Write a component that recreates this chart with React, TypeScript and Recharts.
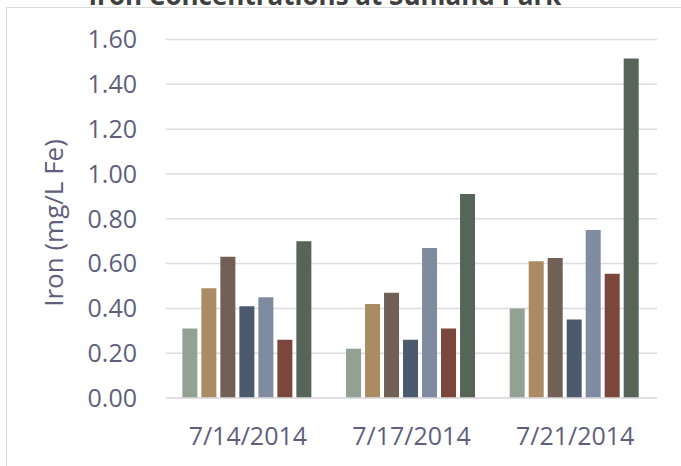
import React from 'react';
import { BarChart, Bar, XAxis, YAxis, CartesianGrid, Label } from 'recharts';

const categories = ['7/14/2014', '7/17/2014', '7/21/2014'];
const site1 = [0.31, 0.22, 0.40];
const site2 = [0.49, 0.42, 0.61];
const site3 = [0.63, 0.47, 0.625];
const site4 = [0.41, 0.26, 0.35];
const site5 = [0.45, 0.67, 0.75];
const site6 = [0.26, 0.31, 0.555];
const site7 = [0.70, 0.91, 1.515];
const yTicks = [0, 0.2, 0.4, 0.6, 0.8, 1.0, 1.2, 1.4, 1.6];

const seriesKeys = ['s1', 's2', 's3', 's4', 's5', 's6', 's7'];
const seriesValues = [site1, site2, site3, site4, site5, site6, site7];
const colors = ['#93A195', '#AB8B63', '#725F55', '#4B5A6C', '#7F8BA0', '#7B473D', '#566558'];

const data = categories.map((c, i) => {
  const row: Record<string, number | string> = { date: c };
  seriesKeys.forEach((k, j) => {
    row[k] = seriesValues[j][i];
  });
  return row;
});

const textColor = '#5F5F7D';
const gridColor = '#DCDCE2';
const fontFamily = '"Open Sans", sans-serif';

export default function App() {
  return (
    <div style={{ position: 'absolute', left: 0, top: 0, width: 681, height: 466, overflow: 'hidden', background: '#fff' }}>
      <div
        style={{
          position: 'absolute',
          left: 6,
          top: 7,
          width: 675,
          height: 459,
          borderLeft: '1.5px solid #D9D9D9',
          borderTop: '1.5px solid #D9D9D9',
        }}
      />
      <svg width={681} height={20} style={{ position: 'absolute', left: 0, top: 0 }}>
        <text
          x={325}
          y={5}
          textAnchor="middle"
          fontFamily={fontFamily}
          fontWeight="bold"
          fontSize={26}
          fill="#404040"
        >
          Iron Concentrations at Sunland Park
        </text>
      </svg>
      <div style={{ position: 'absolute', left: 0, top: 0 }}>
        <BarChart
          width={681}
          height={466}
          data={data}
          margin={{ top: 39.5, right: 24, bottom: 0, left: 0 }}
          barCategoryGap="10%"
          barGap={4}
        >
          <CartesianGrid vertical={false} stroke={gridColor} strokeWidth={1.5} />
          <XAxis
            dataKey="date"
            height={68}
            tickLine={false}
            axisLine={{ stroke: gridColor, strokeWidth: 1.5 }}
            tickMargin={23}
            tick={{ fill: textColor, fontSize: 25, fontFamily }}
            interval={0}
          />
          <YAxis
            domain={[0, 1.6]}
            ticks={yTicks}
            width={166}
            axisLine={false}
            tickLine={false}
            tickMargin={23}
            tickFormatter={(v: number) => v.toFixed(2)}
            tick={{ fill: textColor, fontSize: 25, fontFamily }}
          >
            <Label
              content={() => (
                <text
                  x={53}
                  y={223}
                  transform="rotate(-90, 53, 223)"
                  textAnchor="middle"
                  dominantBaseline="central"
                  fill={textColor}
                  fontSize={26}
                  fontFamily={fontFamily}
                >
                  Iron (mg/L Fe)
                </text>
              )}
            />
          </YAxis>
          {seriesKeys.map((k, j) => (
            <Bar key={k} dataKey={k} fill={colors[j]} isAnimationActive={false} />
          ))}
        </BarChart>
      </div>
    </div>
  );
}
